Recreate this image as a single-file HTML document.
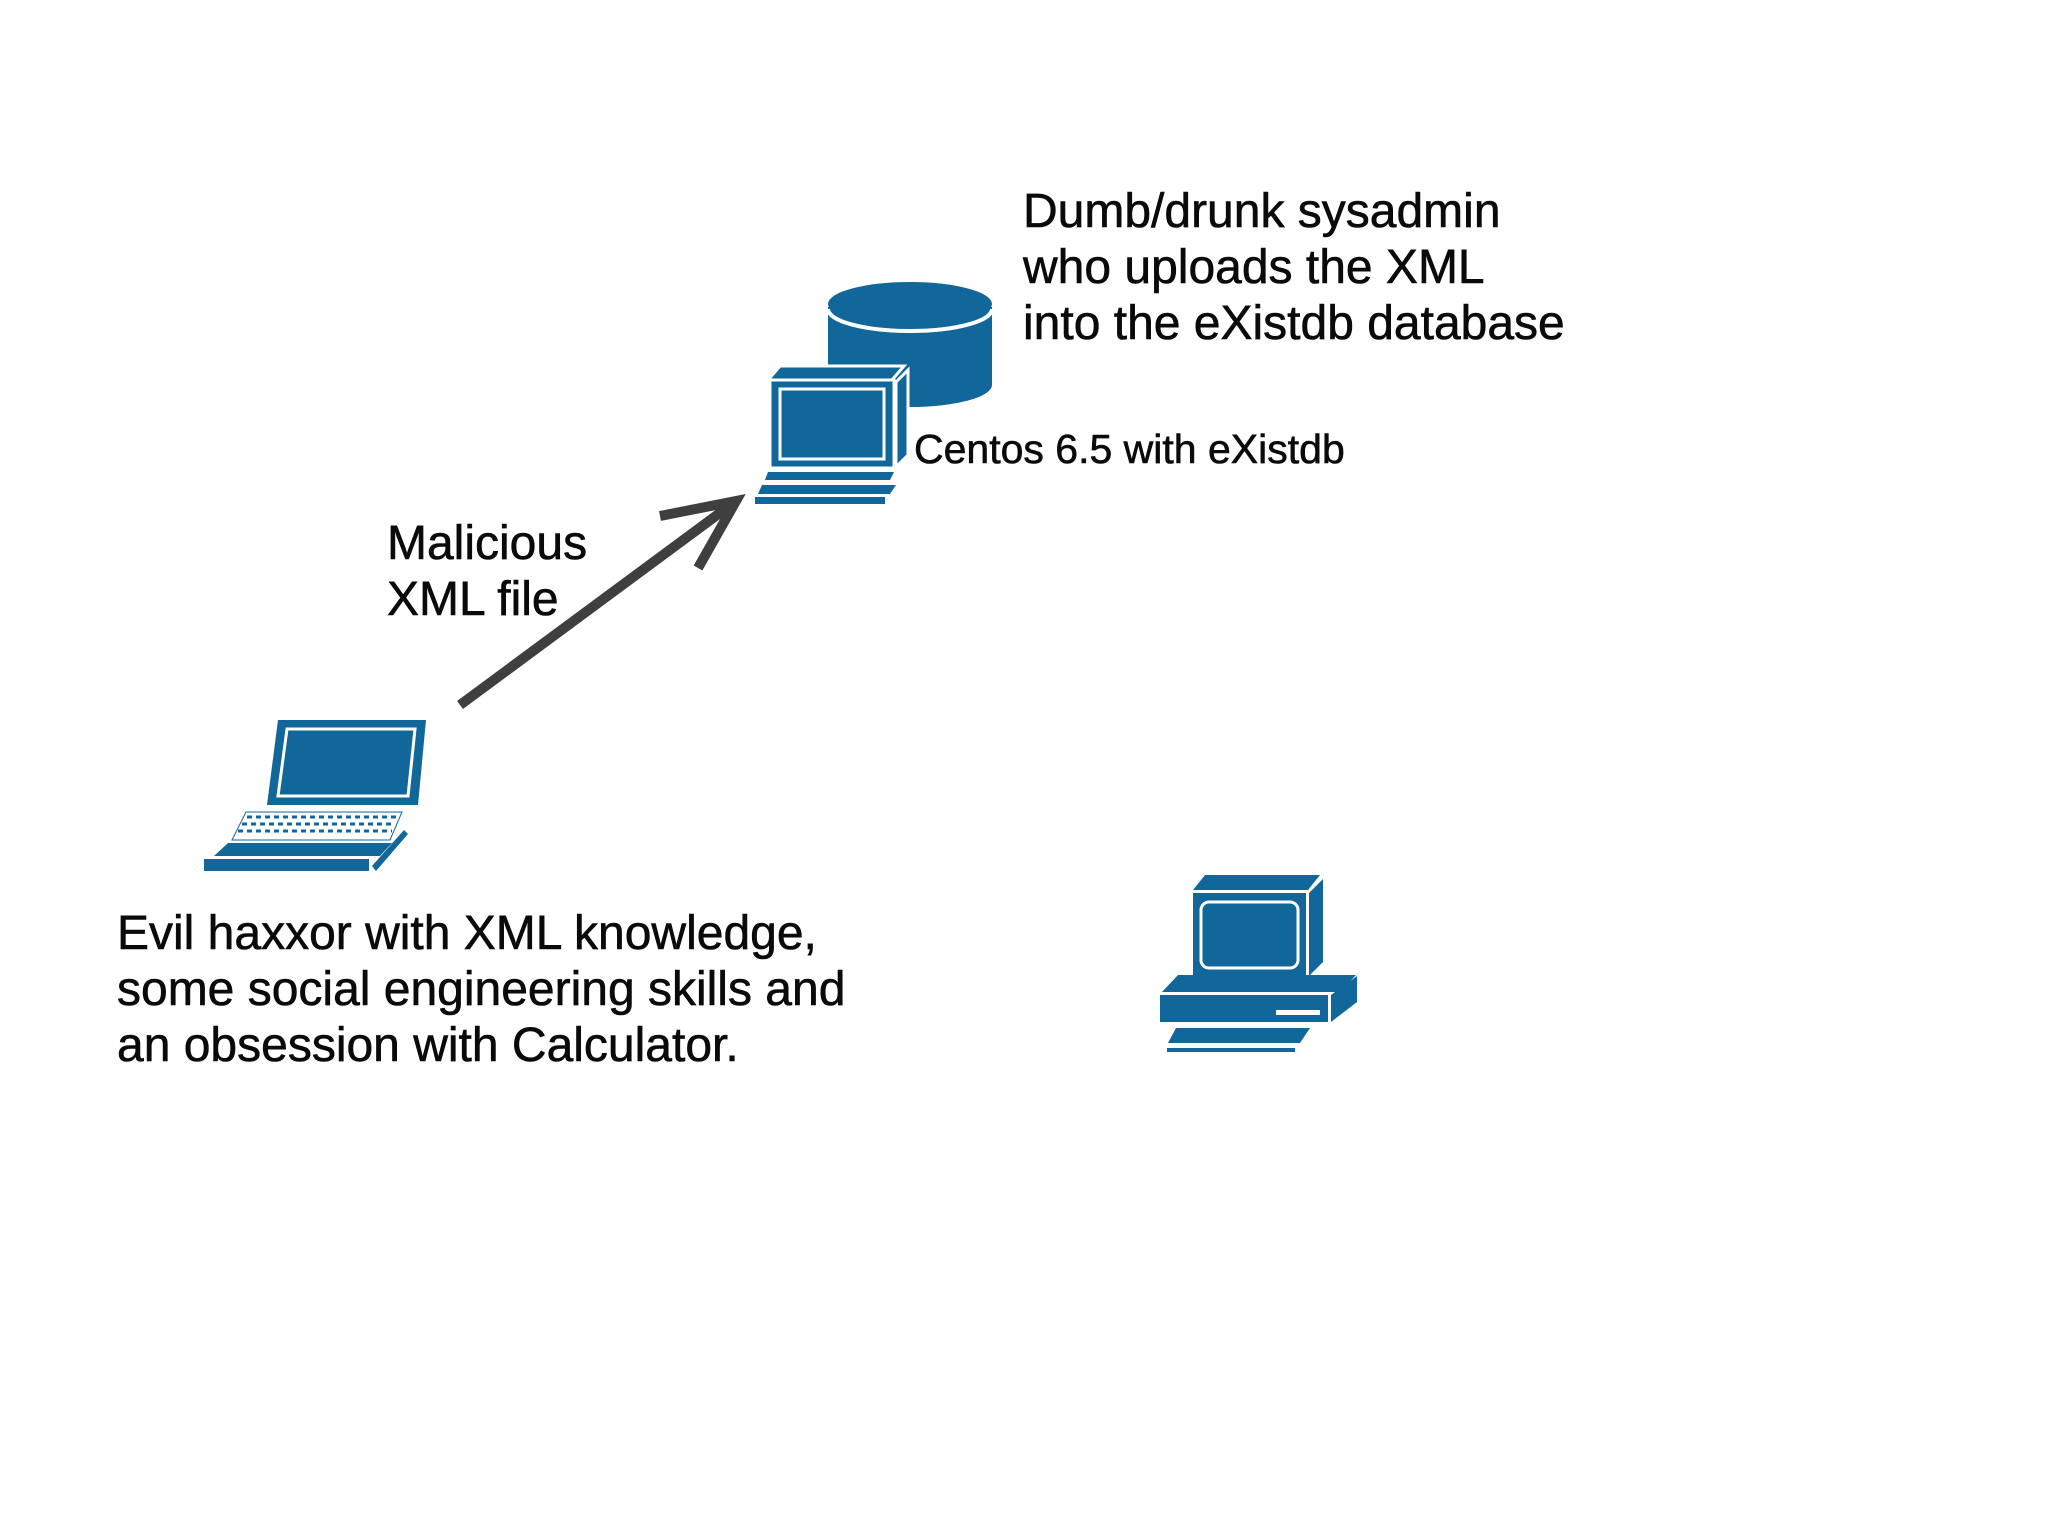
<!DOCTYPE html>
<html><head><meta charset="utf-8"><style>
html,body{margin:0;padding:0;background:#fff;}
body{width:2048px;height:1536px;position:relative;overflow:hidden;}
svg{position:absolute;left:0;top:0;}
text{font-family:"Liberation Sans",Arial,sans-serif;fill:#0a0a0a;stroke:#0a0a0a;stroke-width:0.6;}
</style></head><body>
<svg width="2048" height="1536" viewBox="0 0 2048 1536">
<g fill="#11679a">
  <path d="M828,307 L828,385 A82,22 0 0 0 992,385 L992,307 Z"/>
  <ellipse cx="910" cy="304" rx="82" ry="22"/>
  <path d="M828,309 A82,22 0 0 0 992,309" fill="none" stroke="#fff" stroke-width="4"/>
  <polygon points="780,366 904,366 892,380 768,380" stroke="#fff" stroke-width="3"/>
  <polygon points="896,382 908,370 908,455 896,467" stroke="#fff" stroke-width="3"/>
  <rect x="770" y="380" width="124" height="88" stroke="#fff" stroke-width="3"/>
  <rect x="780" y="389" width="104" height="70" fill="none" stroke="#fff" stroke-width="3"/>
  <polygon points="768,472 894,472 890,480 765,480"/>
  <polygon points="762,485 896,485 890,494 758,494"/>
  <rect x="755" y="497" width="130" height="7"/>
  <polygon points="278,720 426,720 418,805 267,805"/>
  <polygon points="287,729 415,729 408,796 278,796" fill="none" stroke="#fff" stroke-width="3"/>
  <polygon points="246,812 402,812 390,840 232,840" fill="#fff" stroke="#11679a" stroke-width="1"/>
  <g stroke="#11679a" stroke-width="3" stroke-dasharray="5 4">
    <line x1="247" y1="817" x2="398" y2="817"/>
    <line x1="242" y1="824" x2="395" y2="824"/>
    <line x1="238" y1="831" x2="392" y2="831"/>
  </g>
  <polygon points="228,843 392,843 380,856 214,856"/>
  <rect x="204" y="859" width="165" height="12"/>
  <polygon points="372,866 404,830 408,834 376,871"/>
  <polygon points="1205,875 1320,875 1308,890 1193,890"/>
  <polygon points="1309,893 1323,879 1323,962 1309,976"/>
  <rect x="1193" y="893" width="113" height="84"/>
  <rect x="1201" y="902" width="97" height="66" rx="8" fill="none" stroke="#fff" stroke-width="3"/>
  <polygon points="1178,975 1356,975 1340,992 1162,992"/>
  <rect x="1160" y="995" width="168" height="27"/>
  <rect x="1276" y="1010" width="44" height="5" fill="#fff"/>
  <polygon points="1331,995 1357,976 1357,1002 1331,1022"/>
  <polygon points="1176,1028 1310,1028 1300,1043 1168,1043"/>
  <rect x="1167" y="1048" width="128" height="4"/>
</g>
<g stroke="#3f3f3f" stroke-width="10" fill="none" stroke-linecap="butt">
  <line x1="460" y1="705" x2="732" y2="504"/>
  <polyline points="660,516 736,501 698,568" stroke-linejoin="miter"/>
</g>
<text x="1023" y="227" font-size="48">Dumb/drunk sysadmin</text>
<text x="1023" y="283" font-size="48">who uploads the XML</text>
<text x="1023" y="339" font-size="48">into the eXistdb database</text>
<text x="914" y="463" font-size="41">Centos 6.5 with eXistdb</text>
<text x="387" y="559" font-size="48">Malicious</text>
<text x="387" y="615" font-size="48">XML file</text>
<text x="117" y="949" font-size="48">Evil haxxor with XML knowledge,</text>
<text x="117" y="1005" font-size="48">some social engineering skills and</text>
<text x="117" y="1061" font-size="48">an obsession with Calculator.</text>
</svg>
</body></html>
